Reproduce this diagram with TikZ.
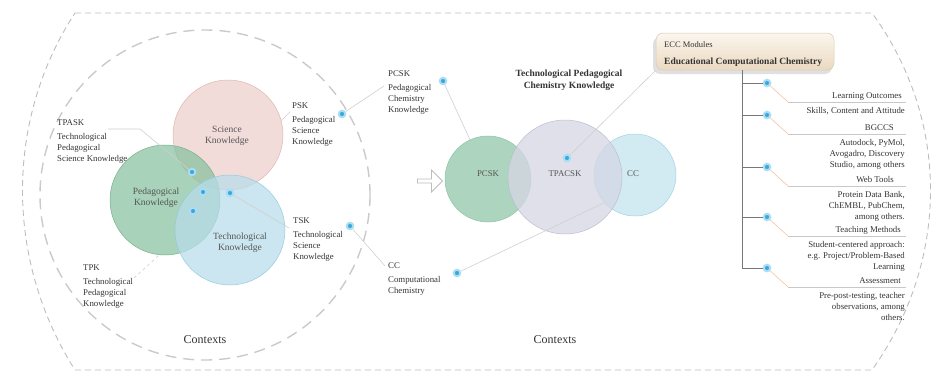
\documentclass[tikz,border=0pt]{standalone}
\usepackage{fontspec}
\setmainfont{Liberation Serif}
\usetikzlibrary{shapes.arrows}
\definecolor{dashc}{HTML}{BDBDBD}
\definecolor{dashcb}{HTML}{CACACA}
\definecolor{scipink}{HTML}{EDCFCC}
\definecolor{scipinkd}{HTML}{E0B4B0}
\definecolor{pedgreen}{HTML}{86C09E}
\definecolor{pedgreend}{HTML}{75B08F}
\definecolor{techblue}{HTML}{B7DDEA}
\definecolor{techblued}{HTML}{95C9DC}
\definecolor{pcskc}{HTML}{8CC4A5}
\definecolor{tpac}{HTML}{D6D6E4}
\definecolor{tpacd}{HTML}{BDBDD0}
\definecolor{ccc}{HTML}{C0E3EF}
\definecolor{cccd}{HTML}{A3D2E3}
\definecolor{dotc}{HTML}{3AA6DA}
\definecolor{doth}{HTML}{A8DDF3}
\definecolor{lblc}{HTML}{333333}
\definecolor{vtextc}{HTML}{555555}
\definecolor{leadc}{HTML}{CFCFCF}
\definecolor{diagc}{HTML}{F2C4A4}
\definecolor{ulc}{HTML}{C8C8C8}
\definecolor{branchc}{HTML}{777777}
\definecolor{ecctop}{HTML}{FBF6EE}
\definecolor{eccbot}{HTML}{EBD9C0}
\definecolor{eccd}{HTML}{D9CBB6}
\begin{document}
\begin{tikzpicture}[x=1pt,y=-1pt,
  outerdash/.style={draw=dashc, line width=0.9pt, dash pattern=on 6pt off 4pt},
  innerdash/.style={draw=dashcb, line width=1.4pt, dash pattern=on 11pt off 7pt},
  vcircle/.style={circle, inner sep=0pt, fill opacity=0.72, line width=0.5pt},
  vtext/.style={align=center, font=\fontsize{9.5}{11}\selectfont, text=vtextc, inner sep=0pt},
  lbl/.style={align=left, anchor=north west, font=\fontsize{8.8}{11}\selectfont, text=lblc, inner sep=0pt},
  hd/.style={anchor=base east, font=\fontsize{8.8}{11}\selectfont, text=lblc, inner sep=0pt},
  bd/.style={align=right, anchor=north east, font=\fontsize{8.8}{11}\selectfont, text=lblc, inner sep=0pt},
  dotn/.style={circle, inner sep=0pt, minimum size=6.5pt, fill=dotc, draw=doth, line width=2pt},
  leader/.style={draw=leadc, line width=0.6pt},
  diag/.style={draw=diagc, line width=0.6pt},
  ul/.style={draw=ulc, line width=0.6pt},
  branch/.style={draw=branchc, line width=0.6pt},
  ctx/.style={font=\fontsize{12}{14}\selectfont, text=lblc, inner sep=0pt}
]
\useasboundingbox (0,0) rectangle (941,380);

% outer frame
\draw[outerdash] (75,13) -- (872,13) .. controls (950,120) and (950,260) .. (872,370) -- (75,370) .. controls (5,260) and (5,120) .. (75,13);
% inner dashed circle
\draw[innerdash] (205,195) circle (165);

% Venn circles
\node[vcircle, fill=scipink, draw=scipinkd, minimum size=110pt] (cSci) at (228,135) {};
\node[vcircle, fill=pedgreen, draw=pedgreend, minimum size=110pt] (cPed) at (165,200) {};
\node[vcircle, fill=techblue, draw=techblued, minimum size=110pt] (cTech) at (230,230) {};
\node[vtext] (tSci) at (227,136) {Science\\Knowledge};
\node[vtext] (tPed) at (156,198) {Pedagogical\\Knowledge};
\node[vtext] (tTech) at (240,243) {Technological\\Knowledge};

% Venn dots
\node[dotn] (v1) at (192,172) {};
\node[dotn] (v2) at (203,192) {};
\node[dotn] (v3) at (230,193) {};
\node[dotn] (v4) at (193,211) {};

% left labels
\node[lbl] (lTPASK) at (57,119) {TPASK\\[3pt]Technological\\Pedagogical\\Science Knowledge};
\node[lbl] (lPSK) at (292,102) {PSK\\[3pt]Pedagogical\\Science\\Knowledge};
\node[lbl] (lTSK) at (293,217) {TSK\\[3pt]Technological\\Science\\Knowledge};
\node[lbl] (lTPK) at (83,265) {TPK\\[3pt]Technological\\Pedagogical\\Knowledge};

\node[dotn] (dPSK) at (342,114) {};
\node[dotn] (dTSK) at (350,226) {};

% leaders in Venn
\coordinate (aTPASK) at (108,129);
\coordinate (bTPASK) at (140,129);
\draw[leader] (aTPASK) -- (bTPASK) -- (v1);
\coordinate (aPSK) at (290,112);
\draw[leader] (cSci.15) -- (aPSK);
\coordinate (aTSK) at (289,228);
\draw[leader] (v3) -- (aTSK);
\coordinate (aTPK) at (134,278);
\draw[leader, dashed] (aTPK) -- (cPed.264);

\node[ctx] (ctxL) at (205,340) {Contexts};

% middle labels
\node[lbl] (lPCSK) at (388,70) {PCSK\\[3pt]Pedagogical\\Chemistry\\Knowledge};
\node[lbl] (lCC) at (388,262) {CC\\[3pt]Computational\\Chemistry};
\node[dotn] (dPCSK) at (443,81) {};
\node[dotn] (dCC) at (457,273) {};
\coordinate (aPCSK) at (384,86);
\coordinate (aCC) at (385,266);
\draw[leader] (dPSK) -- (aPCSK);
\draw[leader] (dTSK) -- (aCC);

% arrow
\node[single arrow, draw=dashc, line width=0.9pt, fill=white, minimum height=25pt, minimum width=22pt, single arrow head extend=2pt, inner sep=0pt] (arr) at (429,181) {};

% middle circles
\node[vcircle, fill=pcskc, draw=pcskc, minimum size=86pt] (cPCSK) at (488,179) {};
\node[vcircle, fill=ccc, draw=cccd, minimum size=82pt] (cCC) at (635,175) {};
\node[vcircle, fill=tpac, draw=tpacd, minimum size=114pt, fill opacity=0.75] (cTP) at (565,177) {};
\node[vtext, font=\fontsize{8.8}{11}\selectfont] (tPCSK) at (488,174) {PCSK};
\node[vtext, font=\fontsize{8.8}{11}\selectfont] (tTP) at (565,174) {TPACSK};
\node[vtext, font=\fontsize{8.8}{11}\selectfont] (tCC) at (633,174) {CC};
\node[dotn] (dTP) at (567,158) {};

\node[align=center, font=\bfseries\fontsize{9.5}{12}\selectfont, text=lblc, inner sep=0pt, anchor=north] (title) at (569,70) {Technological Pedagogical\\Chemistry Knowledge};

\draw[leader] (dPCSK) -- (cPCSK);
\draw[leader] (dCC) -- (cCC.222);

\node[ctx] (ctxM) at (555,340) {Contexts};

% ECC box
\fill[black!12, rounded corners=7pt] (653,37) rectangle (832,74);
\node[draw=eccd, line width=0.5pt, rounded corners=7pt, top color=ecctop, bottom color=eccbot, minimum width=178pt, minimum height=37pt, inner sep=0pt] (ecc) at (745,51.5) {};
\node[anchor=base west, font=\fontsize{8.5}{10}\selectfont, text=lblc, inner sep=0pt] (eccA) at (664,47) {ECC Modules};
\node[anchor=base west, font=\bfseries\fontsize{9.5}{11}\selectfont, text=lblc, inner sep=0pt] (eccB) at (664,64) {Educational Computational Chemistry};
\draw[leader] (dTP) -- (ecc.south west);

% list
\coordinate (vt) at (742,70);
\coordinate (vb) at (742,268);
\draw[branch] (vt) -- (vb);

% item 1
\node[dotn] (r1) at (767,83) {};
\coordinate (s1) at (742,83);
\coordinate (u1) at (788,102);
\coordinate (e1) at (906,102);
\draw[branch] (s1) -- (r1);
\draw[diag] (r1) -- (u1);
\draw[ul] (u1) -- (e1);
\node[hd] (h1) at (902,98) {Learning Outcomes};
\node[bd] (b1) at (905,107) {Skills, Content and Attitude};

% item 2
\node[dotn] (r2) at (767,115) {};
\coordinate (s2) at (742,115);
\coordinate (u2) at (788,134);
\coordinate (e2) at (906,134);
\draw[branch] (s2) -- (r2);
\draw[diag] (r2) -- (u2);
\draw[ul] (u2) -- (e2);
\node[hd] (h2) at (894,130) {BGCCS};
\node[bd] (b2) at (905,139) {Autodock, PyMol,\\Avogadro, Discovery\\Studio, among others};

% item 3
\node[dotn] (r3) at (767,167) {};
\coordinate (s3) at (742,167);
\coordinate (u3) at (788,186);
\coordinate (e3) at (906,186);
\draw[branch] (s3) -- (r3);
\draw[diag] (r3) -- (u3);
\draw[ul] (u3) -- (e3);
\node[hd] (h3) at (894,182) {Web Tools};
\node[bd] (b3) at (905,191) {Protein Data Bank,\\ChEMBL, PubChem,\\among others.};

% item 4
\node[dotn] (r4) at (767,217) {};
\coordinate (s4) at (742,217);
\coordinate (u4) at (788,236);
\coordinate (e4) at (906,236);
\draw[branch] (s4) -- (r4);
\draw[diag] (r4) -- (u4);
\draw[ul] (u4) -- (e4);
\node[hd] (h4) at (901,232) {Teaching Methods};
\node[bd] (b4) at (905,241) {Student-centered approach:\\e.g. Project/Problem-Based\\Learning};

% item 5
\node[dotn] (r5) at (767,268) {};
\coordinate (s5) at (742,268);
\coordinate (u5) at (788,287);
\coordinate (e5) at (906,287);
\draw[branch] (s5) -- (r5);
\draw[diag] (r5) -- (u5);
\draw[ul] (u5) -- (e5);
\node[hd] (h5) at (901,283) {Assessment};
\node[bd] (b5) at (905,292) {Pre-post-testing, teacher\\observations, among\\others.};
\end{tikzpicture}
\end{document}
